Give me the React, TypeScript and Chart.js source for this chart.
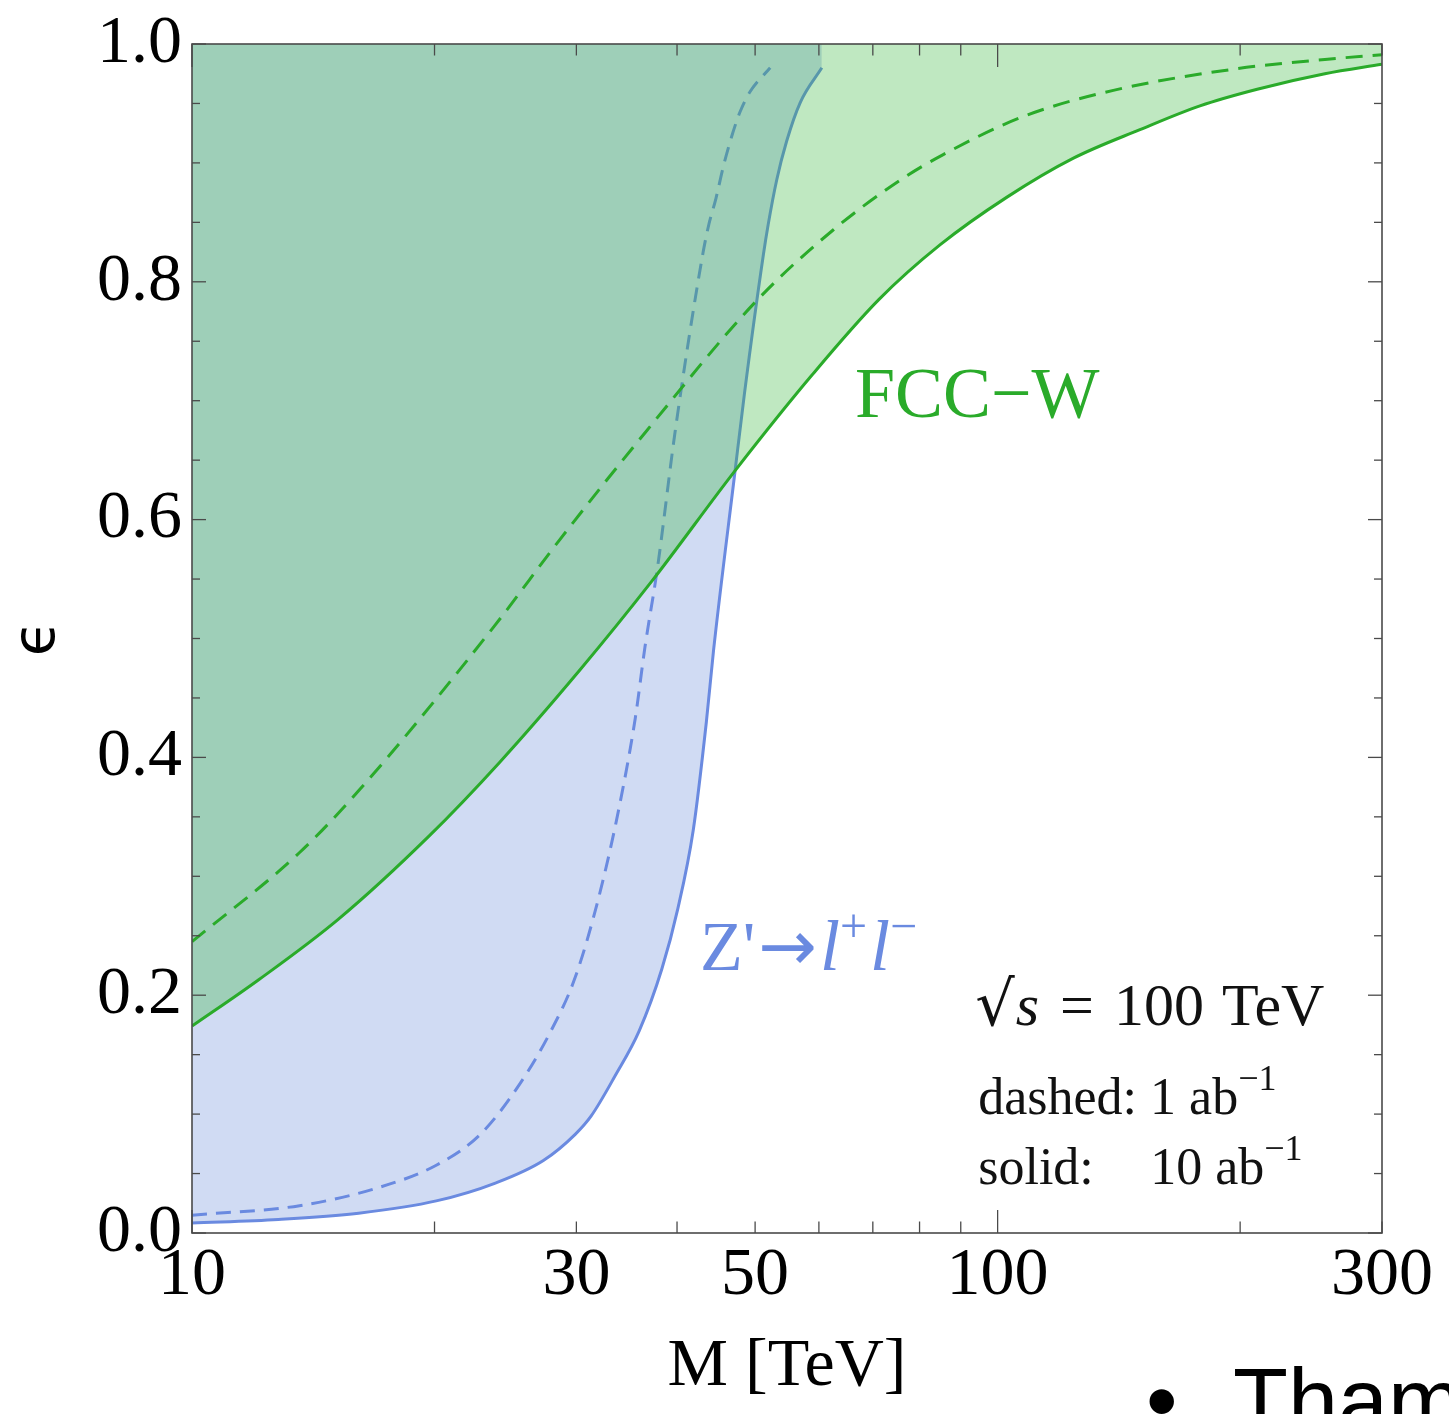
import React, { useEffect, useRef } from "react";
import { Chart, registerables } from "chart.js";

Chart.register(...registerables);

const SERIF = "'Liberation Serif', 'Times New Roman', serif";
const SANS = "'Liberation Sans', Arial, sans-serif";

// FCC-W, solid (10 ab^-1)
const greenSolidMass = [10, 12.1, 15.2, 19.7, 24.1, 30.3, 37.2, 47.2, 58.9, 71.2, 84.8, 102.6, 124.2, 150.2, 178.3, 210, 254.8, 300];
const greenSolidEps = [0.174, 0.213, 0.264, 0.334, 0.396, 0.4735, 0.548, 0.641, 0.722, 0.785, 0.831, 0.871, 0.904, 0.928, 0.948, 0.962, 0.975, 0.983];

// FCC-W, dashed (1 ab^-1)
const greenDashedMass = [10, 13.6, 16.2, 23.7, 28.6, 36.7, 50.2, 62.6, 75.9, 85.6, 107.6, 139.2, 197, 254.8, 300];
const greenDashedEps = [0.245, 0.32, 0.374, 0.51, 0.583, 0.675, 0.784, 0.844, 0.886, 0.907, 0.939, 0.961, 0.979, 0.987, 0.991];

// Z' -> l+ l-, solid (10 ab^-1)
const blueSolidMass = [10, 12.8, 16.1, 20.1, 23.8, 27.3, 29.9, 31.3, 33.5, 35.9, 38.3, 40.1, 41.9, 43.5, 44.4, 47.2, 48.5, 51.2, 51.9, 53.2, 54.7, 56.9, 60.5];
const blueSolidEps = [0.0084, 0.0114, 0.0167, 0.027, 0.042, 0.061, 0.083, 0.0985, 0.132, 0.17, 0.222, 0.273, 0.339, 0.43, 0.49, 0.64, 0.706, 0.823, 0.848, 0.886, 0.918, 0.951, 0.98];

// Z' -> l+ l-, dashed (1 ab^-1)
const blueDashedMass = [10, 13.6, 17.0, 20.1, 22.8, 25.5, 27.9, 29.9, 32.0, 33.9, 35.5, 36.5, 37.8, 39.8, 43.1, 43.8, 44.7, 45.7, 46.8, 47.9, 49.3, 52.2];
const blueDashedEps = [0.015, 0.023, 0.038, 0.057, 0.083, 0.125, 0.17, 0.215, 0.283, 0.358, 0.433, 0.493, 0.558, 0.675, 0.825, 0.848, 0.87, 0.898, 0.923, 0.943, 0.96, 0.98];

const xTickValues = [10, 20, 30, 40, 50, 60, 70, 80, 90, 100, 200, 300];
const xMajorTicks = [10, 100];
const xLabelValues = [10, 30, 50, 100, 300];
const yMinorStep = 0.05;
const yMajorStep = 0.2;

const BLUE = "#6a8ae0";
const GREEN = "#2aab2a";
const BLUE_FILL = "rgba(98,135,215,0.3)";
const GREEN_FILL = "rgba(48,181,55,0.31)";

function pts(m: number[], e: number[]) {
  return m.map((v, i) => ({ x: v, y: e[i] }));
}

type Part = { text?: string; font?: string; rise?: number; gap?: number };

function drawParts(ctx: CanvasRenderingContext2D, x: number, y: number, parts: Part[]) {
  let cx = x;
  for (const p of parts) {
    if (p.gap) {
      cx += p.gap;
      continue;
    }
    ctx.font = p.font as string;
    ctx.fillText(p.text as string, cx, y - (p.rise || 0));
    cx += ctx.measureText(p.text as string).width;
  }
}

const decorPlugin = {
  id: "decor",
  afterDatasetsDraw(chart: any) {
    const { ctx, chartArea, scales } = chart;
    const { left, right, top, bottom } = chartArea;
    const xs = scales.x;
    const ys = scales.y;
    ctx.save();
    ctx.strokeStyle = "#4a4a4a";
    ctx.lineWidth = 1.3;
    const line = (x1: number, y1: number, x2: number, y2: number) => {
      ctx.beginPath();
      ctx.moveTo(x1, y1);
      ctx.lineTo(x2, y2);
      ctx.stroke();
    };
    for (const v of xTickValues) {
      const px = xs.getPixelForValue(v);
      const len = xMajorTicks.includes(v) ? 23 : 11.5;
      line(px, bottom, px, bottom - len);
      line(px, top, px, top + len);
    }
    const n = Math.round(1 / yMinorStep);
    const every = Math.round(yMajorStep / yMinorStep);
    for (let i = 0; i <= n; i++) {
      const py = ys.getPixelForValue(i * yMinorStep);
      const len = i % every === 0 ? 14 : 8;
      line(left, py, left + len, py);
      line(right, py, right - len, py);
    }
    ctx.lineWidth = 1.6;
    ctx.strokeRect(left, top, right - left, bottom - top);
    ctx.restore();
  },
  afterDraw(chart: any) {
    const { ctx, scales } = chart;
    const xs = scales.x;
    const ys = scales.y;
    ctx.save();
    ctx.textAlign = "left";
    ctx.textBaseline = "alphabetic";

    // FCC-W label
    ctx.fillStyle = GREEN;
    drawParts(ctx, xs.getPixelForValue(66.5), ys.getPixelForValue(0.686), [
      { text: "FCC\u2212W", font: `72px ${SERIF}` },
    ]);

    // Z' -> l+ l- label
    ctx.fillStyle = BLUE;
    drawParts(ctx, xs.getPixelForValue(42.7), ys.getPixelForValue(0.221), [
      { text: "Z'", font: `70px ${SERIF}` },
      { gap: 3 },
      { text: "\u2192", font: `70px 'DejaVu Sans', sans-serif` },
      { gap: 3 },
      { text: "l", font: `italic 72px ${SERIF}` },
      { text: "+", font: `48px ${SERIF}`, rise: 28 },
      { gap: 3 },
      { text: "l", font: `italic 72px ${SERIF}` },
      { text: "\u2212", font: `48px ${SERIF}`, rise: 28 },
    ]);

    // sqrt(s) annotation
    ctx.fillStyle = "#111";
    const ax = xs.getPixelForValue(93.8);
    drawParts(ctx, ax, ys.getPixelForValue(0.175), [
      { text: "\u221A", font: `62px 'DejaVu Serif', serif` },
      { gap: 1 },
      { text: "s", font: `italic 60px ${SERIF}` },
      { gap: 21 },
      { text: "=", font: `60px ${SERIF}` },
      { gap: 20 },
      { text: "100", font: `60px ${SERIF}` },
      { gap: 18 },
      { text: "TeV", font: `60px ${SERIF}` },
    ]);
    drawParts(ctx, ax + 3, ys.getPixelForValue(0.1), [
      { text: "dashed: 1 ab", font: `52px ${SERIF}` },
      { text: "\u22121", font: `36px ${SERIF}`, rise: 24 },
    ]);
    const sy = ys.getPixelForValue(0.041);
    drawParts(ctx, ax + 3, sy, [{ text: "solid:", font: `52px ${SERIF}` }]);
    drawParts(ctx, ax + 175, sy, [
      { text: "10 ab", font: `52px ${SERIF}` },
      { text: "\u22121", font: `36px ${SERIF}`, rise: 24 },
    ]);

    // slide text partially visible at the bottom
    ctx.fillStyle = "#000";
    drawParts(ctx, 1146, 1432, [{ text: "\u2022", font: `90px ${SANS}` }]);
    drawParts(ctx, 1233, 1432, [{ text: "Tham", font: `90px ${SANS}` }]);
    ctx.restore();
  },
};

export default function App() {
  const ref = useRef<HTMLCanvasElement | null>(null);

  useEffect(() => {
    document.body.style.margin = "0";
    const canvas = ref.current;
    if (!canvas) return;
    const chart = new Chart(canvas, {
      type: "line",
      data: {
        datasets: [
          {
            label: "FCC-W dashed (1 ab^-1)",
            data: pts(greenDashedMass, greenDashedEps),
            borderColor: GREEN,
            borderWidth: 3,
            borderDash: [17, 10],
            fill: false,
            pointRadius: 0,
            cubicInterpolationMode: "monotone",
            order: 0,
          },
          {
            label: "FCC-W solid (10 ab^-1)",
            data: pts(greenSolidMass, greenSolidEps),
            borderColor: GREEN,
            borderWidth: 3,
            backgroundColor: GREEN_FILL,
            fill: "end",
            pointRadius: 0,
            cubicInterpolationMode: "monotone",
            order: 1,
          },
          {
            label: "Z' dashed (1 ab^-1)",
            data: pts(blueDashedMass, blueDashedEps),
            borderColor: BLUE,
            borderWidth: 3,
            borderDash: [15, 9],
            fill: false,
            pointRadius: 0,
            cubicInterpolationMode: "monotone",
            order: 2,
          },
          {
            label: "Z' solid (10 ab^-1)",
            data: pts(blueSolidMass, blueSolidEps),
            borderColor: BLUE,
            borderWidth: 3,
            backgroundColor: BLUE_FILL,
            fill: "end",
            pointRadius: 0,
            cubicInterpolationMode: "monotone",
            order: 3,
          },
        ],
      },
      options: {
        animation: false,
        responsive: false,
        devicePixelRatio: 1,
        layout: { padding: { top: 44, right: 67, left: 0, bottom: 0 } },
        plugins: {
          legend: { display: false },
          tooltip: { enabled: false },
        },
        scales: {
          x: {
            type: "logarithmic",
            min: 10,
            max: 300,
            afterBuildTicks: (s: any) => {
              s.ticks = xTickValues.map((v) => ({ value: v }));
            },
            afterFit: (s: any) => {
              s.height = 181;
            },
            ticks: {
              autoSkip: false,
              maxRotation: 0,
              minRotation: 0,
              padding: 2,
              color: "#000",
              font: { family: SERIF, size: 68 },
              callback: (v: any) => (xLabelValues.includes(Number(v)) ? String(v) : ""),
            },
            grid: { display: false, drawTicks: false },
            border: { display: false },
            title: {
              display: true,
              text: "M [TeV]",
              color: "#000",
              font: { family: SERIF, size: 68 },
              padding: { top: 0, bottom: 6 },
            },
          },
          y: {
            min: 0,
            max: 1,
            afterFit: (s: any) => {
              s.width = 192;
            },
            ticks: {
              stepSize: yMajorStep,
              padding: 10,
              color: "#000",
              font: { family: SERIF, size: 68, lineHeight: 1 },
              callback: (v: any) => Number(v).toFixed(1),
            },
            grid: { display: false, drawTicks: false },
            border: { display: false },
            title: {
              display: true,
              text: "\u03F5",
              color: "#000",
              font: { family: "'DejaVu Sans', sans-serif", size: 58 },
              padding: { top: 4, bottom: 0 },
            },
          },
        },
      },
      plugins: [decorPlugin],
    } as any);
    return () => chart.destroy();
  }, []);

  return (
    <div style={{ width: 1449, height: 1414, overflow: "hidden", background: "#fff" }}>
      <canvas ref={ref} width={1449} height={1414} style={{ display: "block" }} />
    </div>
  );
}
